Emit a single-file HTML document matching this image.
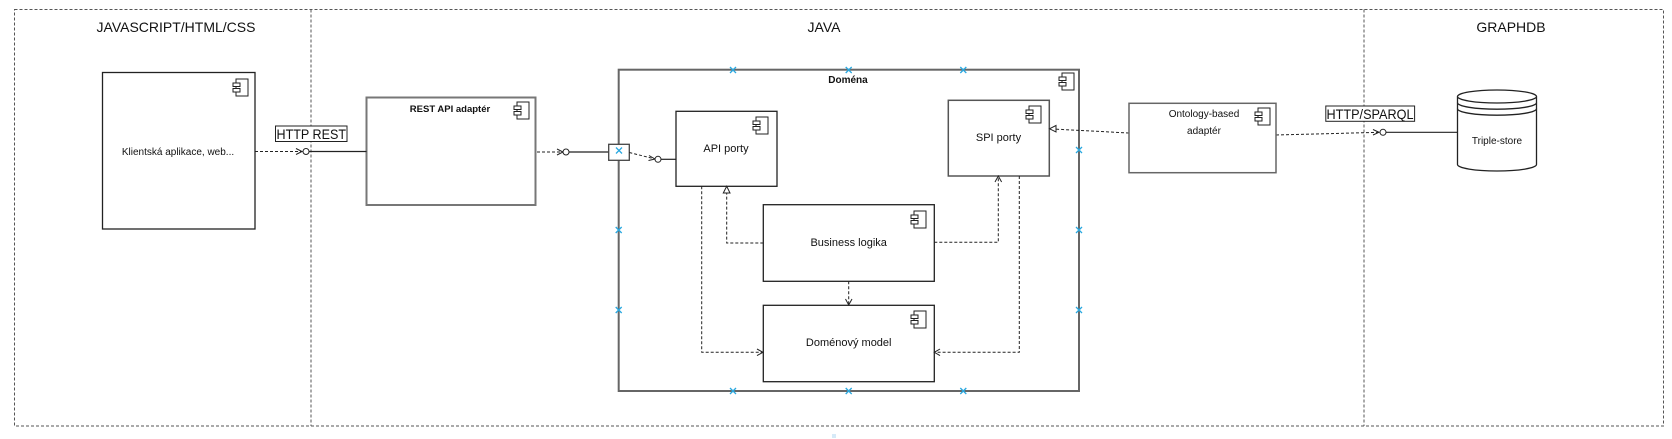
<!DOCTYPE html>
<html><head><meta charset="utf-8"><style>
html,body{margin:0;padding:0;background:#fff;}
svg{display:block;}
text{font-family:"Liberation Sans",Arial,sans-serif;fill:#111;}
</style></head><body>
<svg width="1672" height="439" viewBox="0 0 1672 439" xmlns="http://www.w3.org/2000/svg">
<defs>
<g id="ic">
<rect x="0" y="0" width="12" height="17" fill="#fff" stroke="#222" stroke-width="1"/>
<rect x="-3" y="4" width="7" height="3.5" fill="#fff" stroke="#222" stroke-width="1"/>
<rect x="-3" y="9.5" width="7" height="3.5" fill="#fff" stroke="#222" stroke-width="1"/>
</g>
<g id="bx"><path d="M-3,-3L3,3M-3,3L3,-3" stroke="#29a8e0" stroke-width="1.3"/></g>
</defs>
<rect x="14.5" y="9.5" width="1649" height="416.5" fill="none" stroke="#555" stroke-dasharray="3,2"/>
<line x1="311" y1="9.5" x2="311" y2="426" stroke="#555" stroke-dasharray="3,2"/>
<line x1="1364" y1="9.5" x2="1364" y2="426" stroke="#555" stroke-dasharray="3,2"/>
<text x="176" y="32" font-size="14" text-anchor="middle">JAVASCRIPT/HTML/CSS</text>
<text x="824" y="32" font-size="14" text-anchor="middle">JAVA</text>
<text x="1511" y="32" font-size="14" text-anchor="middle">GRAPHDB</text>

<rect x="102.5" y="72.5" width="152.5" height="156.5" fill="#fff" stroke="#222" stroke-width="1.3"/>
<use href="#ic" x="236" y="79"/>
<text x="178" y="155" font-size="10" text-anchor="middle">Klientská aplikace, web...</text>

<rect x="366.5" y="97.5" width="169" height="107.5" fill="#fff" stroke="#777" stroke-width="2"/>
<use href="#ic" x="517" y="102"/>
<text x="450" y="112" font-size="9.5" font-weight="bold" text-anchor="middle">REST API adaptér</text>

<line x1="255" y1="151.5" x2="302" y2="151.5" stroke="#222" stroke-dasharray="3,2"/>
<path d="M296,148.5L302,151.5L296,154.5" fill="none" stroke="#222"/>
<circle cx="306" cy="151.5" r="3" fill="#fff" stroke="#222"/>
<line x1="309" y1="151.5" x2="366.5" y2="151.5" stroke="#222" stroke-width="1.2"/>
<rect x="275.5" y="126" width="71.5" height="15.5" fill="#fff" stroke="#222"/>
<text x="276.5" y="139" font-size="14" textLength="69.5" lengthAdjust="spacingAndGlyphs">HTTP REST</text>

<line x1="537" y1="152" x2="563" y2="152" stroke="#222" stroke-dasharray="3,2"/>
<path d="M557,149L563,152L557,155" fill="none" stroke="#222"/>
<circle cx="566" cy="152" r="3" fill="#fff" stroke="#222"/>
<line x1="569" y1="152" x2="609" y2="152" stroke="#222" stroke-width="1.2"/>

<rect x="618.7" y="69.7" width="460.3" height="321.3" fill="none" stroke="#666" stroke-width="2"/>
<use href="#ic" x="1062" y="73"/>
<text x="848" y="83" font-size="10" font-weight="bold" text-anchor="middle">Doména</text>
<use href="#bx" x="733" y="70"/><use href="#bx" x="848.7" y="70"/><use href="#bx" x="963.3" y="70"/>
<use href="#bx" x="733" y="391"/><use href="#bx" x="848.7" y="391"/><use href="#bx" x="963.3" y="391"/>
<use href="#bx" x="618.7" y="230"/><use href="#bx" x="618.7" y="310"/>
<use href="#bx" x="1079" y="150"/><use href="#bx" x="1079" y="230"/><use href="#bx" x="1079" y="310"/>

<rect x="608.7" y="144.3" width="20.6" height="16" fill="#fff" stroke="#444" stroke-width="1.3"/>
<use href="#bx" x="619" y="150.5"/>
<line x1="629.3" y1="152.5" x2="655" y2="159" stroke="#222" stroke-dasharray="3,2"/>
<path d="M649,155.5L655,159L648.5,160.5" fill="none" stroke="#222"/>
<circle cx="658" cy="159.3" r="3" fill="#fff" stroke="#222"/>
<line x1="661" y1="159.3" x2="676" y2="159.3" stroke="#222" stroke-width="1.2"/>

<rect x="676" y="111.3" width="101" height="75" fill="#fff" stroke="#222" stroke-width="1.3"/>
<use href="#ic" x="756" y="117"/>
<text x="726" y="152" font-size="11" text-anchor="middle">API porty</text>

<rect x="948.3" y="100.3" width="101" height="75.7" fill="#fff" stroke="#555" stroke-width="1.5"/>
<use href="#ic" x="1029" y="106"/>
<text x="998.5" y="141" font-size="11" text-anchor="middle">SPI porty</text>

<rect x="763.3" y="204.7" width="171" height="76.6" fill="#fff" stroke="#222" stroke-width="1.3"/>
<use href="#ic" x="914" y="211"/>
<text x="848.7" y="246" font-size="11" text-anchor="middle">Business logika</text>

<rect x="763.3" y="305.3" width="171" height="76.4" fill="#fff" stroke="#222" stroke-width="1.3"/>
<use href="#ic" x="914" y="311"/>
<text x="848.7" y="346" font-size="11" text-anchor="middle">Doménový model</text>

<g fill="none" stroke="#222" stroke-dasharray="3,2">
<polyline points="763.3,243 726.7,243 726.7,193"/>
<polyline points="701.7,186.3 701.7,352.3 762,352.3"/>
<line x1="848.7" y1="281.3" x2="848.7" y2="304"/>
<polyline points="934.3,242.3 998.3,242.3 998.3,177"/>
<polyline points="1019.3,176 1019.3,352.3 936,352.3"/>
<polyline points="1129,133 1053,129"/>
<polyline points="1276,135 1380,132.3"/>
</g>
<path d="M723.3,193L726.7,186.3L730,193Z" fill="#fff" stroke="#222"/>
<path d="M757,349L763,352.3L757,355.6" fill="none" stroke="#222"/>
<path d="M845.5,299L848.7,305L852,299" fill="none" stroke="#222"/>
<path d="M995,182L998.3,176L1001.6,182" fill="none" stroke="#222"/>
<path d="M940,349L934.3,352.3L940,355.6" fill="none" stroke="#222"/>
<path d="M1056,125.5L1049.5,128.8L1056,132Z" fill="#fff" stroke="#222"/>
<path d="M1373,129.5L1379,132.3L1373,135" fill="none" stroke="#222"/>

<rect x="1129" y="103.3" width="147" height="69.4" fill="#fff" stroke="#666" stroke-width="1.5"/>
<use href="#ic" x="1258" y="108"/>
<text x="1204" y="117" font-size="10" text-anchor="middle">Ontology-based</text>
<text x="1204" y="134" font-size="10" text-anchor="middle">adaptér</text>

<circle cx="1383" cy="132.3" r="3" fill="#fff" stroke="#222"/>
<line x1="1386" y1="132.3" x2="1457.5" y2="132.3" stroke="#222" stroke-width="1.2"/>
<rect x="1325.8" y="106" width="88.8" height="15.3" fill="#fff" stroke="#222"/>
<text x="1326.5" y="119" font-size="14" textLength="87" lengthAdjust="spacingAndGlyphs">HTTP/SPARQL</text>

<path d="M1457.5,96.5 L1457.5,164.5 A39.5,6.5 0 0 0 1536.5,164.5 L1536.5,96.5" fill="#fff" stroke="#222" stroke-width="1.3"/>
<ellipse cx="1497" cy="96.5" rx="39.5" ry="6.5" fill="#fff" stroke="#222" stroke-width="1.3"/>
<path d="M1457.5,102.7 A39.5,6.5 0 0 0 1536.5,102.7" fill="none" stroke="#222" stroke-width="1.3"/>
<path d="M1457.5,108.7 A39.5,6.5 0 0 0 1536.5,108.7" fill="none" stroke="#222" stroke-width="1.3"/>
<text x="1497" y="144" font-size="10" text-anchor="middle">Triple-store</text>

<rect x="832" y="434" width="4" height="4" fill="#d6eaf8"/>
</svg>
</body></html>
